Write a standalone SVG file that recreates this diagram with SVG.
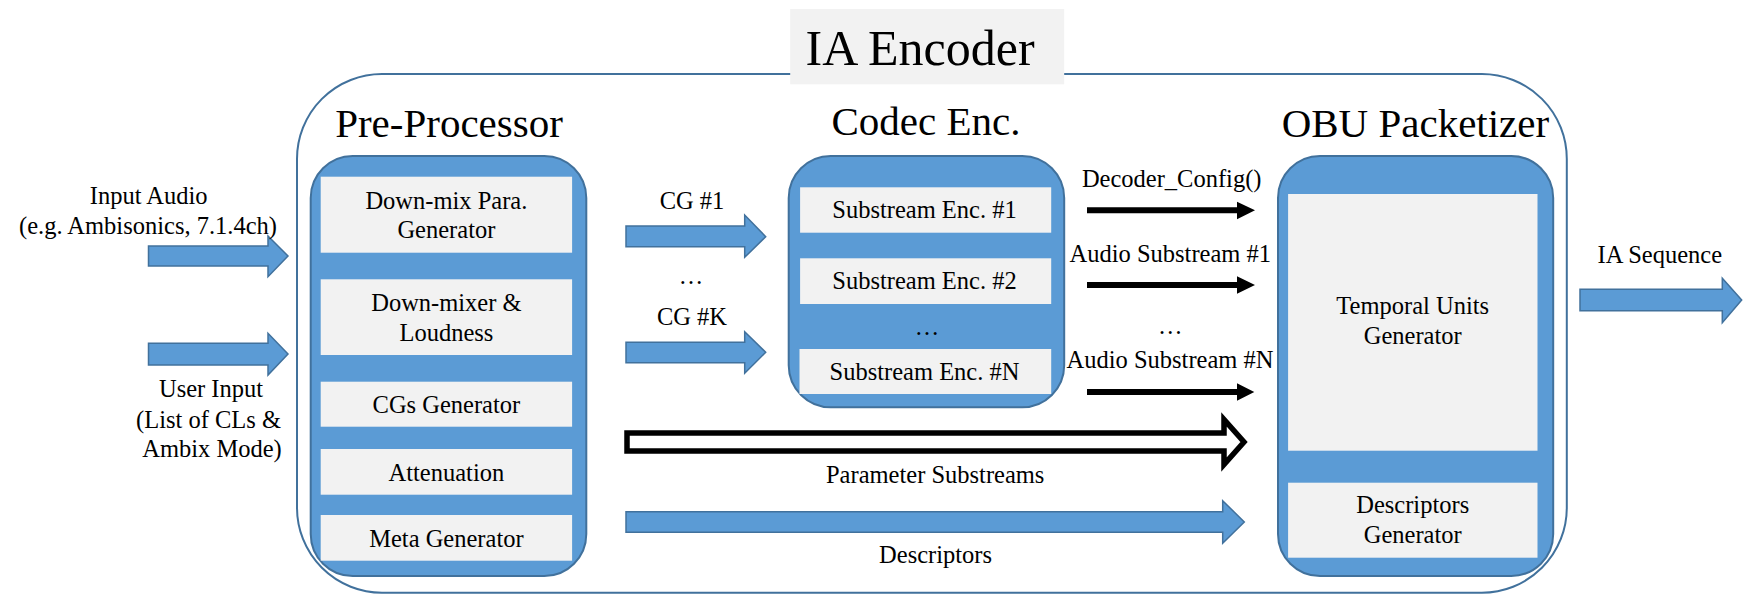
<svg xmlns="http://www.w3.org/2000/svg" width="1744" height="594" viewBox="0 0 1744 594" font-family="Liberation Serif, DejaVu Serif, serif">
<style>
text{font-family:'Liberation Serif','DejaVu Serif',serif}
.t{fill:#000;text-anchor:middle}
.s{font-size:24.5px}
.h{font-size:41px}
.blue{fill:#5b9bd5;stroke:#41719c;stroke-width:2}
.inner{fill:#f2f2f2;stroke:none}
.barrow{fill:#5b9bd5;stroke:#41719c;stroke-width:1.5}
.karrow{fill:#000;stroke:none}
</style>
<rect x="0" y="0" width="1744" height="594" fill="#fff"/>
<g id="ia-encoder">
<rect x="297" y="74" width="1269.8" height="518.7" rx="85" ry="85" fill="none" stroke="#41719c" stroke-width="2"/>
<rect x="790.2" y="9" width="274" height="75.3" fill="#f2f2f2"/>
<text class="t" x="805.5" y="65" font-family="Liberation Serif, serif" style="font-size:50px;text-anchor:start">IA Encoder</text>
</g>
<g id="pre-processor" font-family="Liberation Serif, serif">
<text class="t h" x="449" y="137">Pre-Processor</text>
<rect class="blue" x="310.7" y="156" width="275.6" height="420" rx="42" ry="42"/>
<rect class="inner" x="320.7" y="176.7" width="251.4" height="76"/>
<text class="t s" x="446.4" y="209">Down-mix Para.</text>
<text class="t s" x="446.4" y="238">Generator</text>
<rect class="inner" x="320.7" y="279.3" width="251.4" height="75.7"/>
<text class="t s" x="446.4" y="311">Down-mixer &amp;</text>
<text class="t s" x="446.4" y="340.7">Loudness</text>
<rect class="inner" x="320.7" y="381.7" width="251.4" height="45"/>
<text class="t s" x="446.4" y="412.7">CGs Generator</text>
<rect class="inner" x="320.7" y="449" width="251.4" height="45.7"/>
<text class="t s" x="446.4" y="481">Attenuation</text>
<rect class="inner" x="320.7" y="515" width="251.4" height="45.7"/>
<text class="t s" x="446.4" y="546.7">Meta Generator</text>
</g>
<g id="codec-enc" font-family="Liberation Serif, serif">
<text class="t h" x="926" y="135">Codec Enc.</text>
<rect class="blue" x="788.7" y="156" width="275.5" height="251.3" rx="42" ry="42"/>
<rect class="inner" x="800.1" y="187.3" width="251.1" height="45.4"/>
<text class="t s" x="924.5" y="218.3">Substream Enc. #1</text>
<rect class="inner" x="800.1" y="258.3" width="251.1" height="45.7"/>
<text class="t s" x="924.5" y="289.3">Substream Enc. #2</text>
<text class="t s" x="927" y="335">…</text>
<rect class="inner" x="799.5" y="349" width="251.7" height="45"/>
<text class="t s" x="924.5" y="380">Substream Enc. #N</text>
</g>
<g id="obu-packetizer" font-family="Liberation Serif, serif">
<text class="t h" x="1415.4" y="136.7">OBU Packetizer</text>
<rect class="blue" x="1278" y="156" width="275.2" height="420" rx="42" ry="42"/>
<rect class="inner" x="1288.1" y="194" width="249.4" height="256.7"/>
<text class="t s" x="1412.7" y="314">Temporal Units</text>
<text class="t s" x="1412.7" y="344">Generator</text>
<rect class="inner" x="1288.1" y="482.7" width="249.4" height="75"/>
<text class="t s" x="1412.7" y="513.3">Descriptors</text>
<text class="t s" x="1412.7" y="543.3">Generator</text>
</g>
<g id="connectors" font-family="Liberation Serif, serif">
<path class="barrow" d="M148.5,246 H268 V236 L288,256 L268,276.7 V266 H148.5 Z"/>
<text class="t s" x="148.7" y="204">Input Audio</text>
<text class="t s" x="148" y="234">(e.g. Ambisonics, 7.1.4ch)</text>
<path class="barrow" d="M148.5,343.3 H268 V333.3 L288,354 L268,375 V365 H148.5 Z"/>
<text class="t s" x="211" y="397.3">User Input</text>
<text class="t s" x="208.5" y="427.7">(List of CLs &amp;</text>
<text class="t s" x="212" y="456.7">Ambix Mode)</text>
<path class="barrow" d="M626,226 H744.7 V215 L765.7,236.7 L744.7,257.3 V246.7 H626 Z"/>
<text class="t s" x="692" y="209.3">CG #1</text>
<text class="t s" x="691" y="284">…</text>
<path class="barrow" d="M626,342.3 H744.7 V331.7 L765.7,352.3 L744.7,373.3 V362.7 H626 Z"/>
<text class="t s" x="692" y="325">CG #K</text>
<path class="karrow" d="M1087,207.3 H1237 V201.7 L1255,210.3 L1237,219.3 V213.3 H1087 Z"/>
<text class="t s" x="1171.7" y="187">Decoder_Config()</text>
<path class="karrow" d="M1087,282 H1237 V276.3 L1255,285 L1237,293.7 V288 H1087 Z"/>
<text class="t s" x="1170.3" y="261.7">Audio Substream #1</text>
<text class="t s" x="1170.2" y="334">…</text>
<path class="karrow" d="M1087,389 H1237 V383.3 L1254.3,392 L1237,400.7 V395 H1087 Z"/>
<text class="t s" x="1170" y="368.3">Audio Substream #N</text>
<path d="M627,433 H1224 V419.5 L1244,442 L1224,464.5 V451 H627 Z" fill="#fff" stroke="#000" stroke-width="5.5" stroke-linejoin="miter"/>
<text class="t s" x="935.2" y="483.3">Parameter Substreams</text>
<path class="barrow" d="M626,511.7 H1222.7 V500.7 L1244.3,522 L1222.7,543.3 V532.3 H626 Z"/>
<text class="t s" x="935.6" y="563.3">Descriptors</text>
<path class="barrow" d="M1580,289.3 H1722.3 V278.3 L1741.7,300 L1722.3,322.7 V310.7 H1580 Z"/>
<text class="t s" x="1659.8" y="263.3">IA Sequence</text>
</g>
</svg>
